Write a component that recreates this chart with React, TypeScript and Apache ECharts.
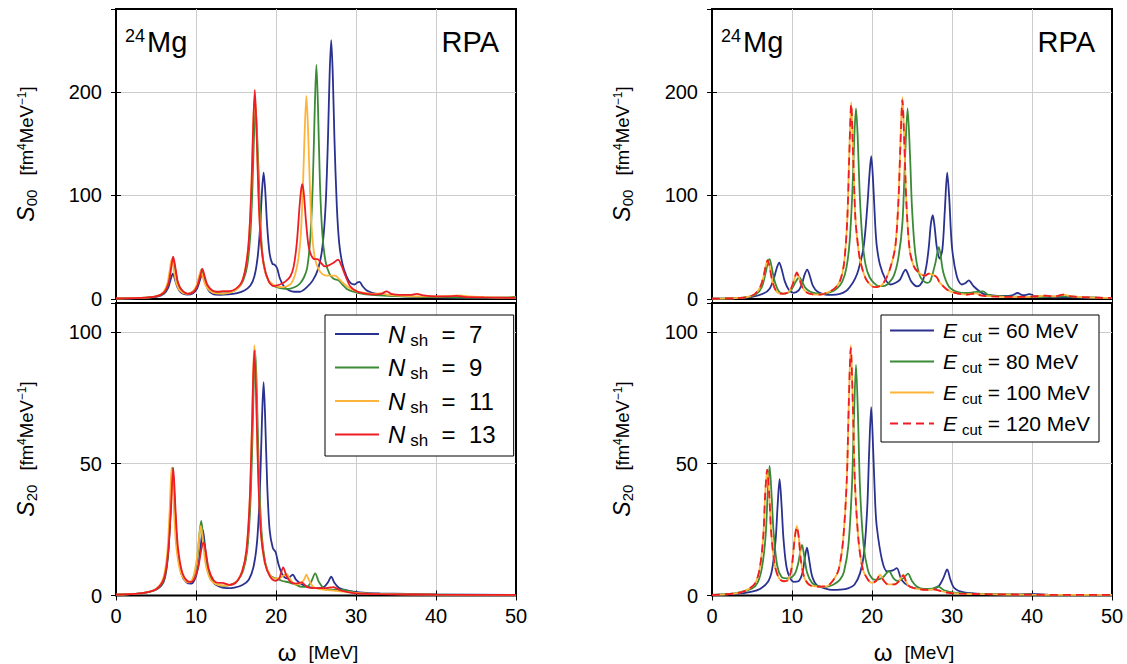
import React, { useEffect, useRef } from "react";
import * as echarts from "echarts";

// ---------- colours ----------
const BLUE = "#2a318f";
const GREEN = "#3b8a35";
const ORANGE = "#fdb43a";
const RED = "#ee1c24";

// ---------- tick labels ----------
const xTicks = [0, 10, 20, 30, 40, 50];
const yTicksS00 = [0, 100, 200];
const yTicksS20 = [0, 50, 100];

// ---------- legend labels ----------
const nshNames = ["N7", "N9", "N11", "N13"];
const nshValues = ["7", "9", "11", "13"];
const ecutNames = ["E60", "E80", "E100", "E120"];
const ecutValues = ["60", "80", "100", "120"];

// ---------- Panel A: S00, varying N_sh ----------
const s00_N7 = [[0,0.4],[3,0.8],[5,2],[6,5],[6.5,10.4],[6.8,18],[7.1,24.5],[7.4,18],[7.7,11],[8.2,5.7],[8.9,4.2],[9.6,5.4],[10.1,9.5],[10.5,18.5],[10.8,24.5],[11.1,18.5],[11.5,9.2],[12.1,4.8],[13,4],[14,4.4],[15,5.4],[16,8],[16.8,13],[17.3,22],[17.7,40],[18,68],[18.25,104],[18.45,122],[18.65,105],[18.9,70],[19.2,44],[19.55,34],[19.85,33],[20.15,29.5],[20.5,19.5],[21,12],[21.6,8.4],[22.3,7],[23,7],[23.8,11],[24.6,18],[25.3,30],[25.8,50],[26.2,90],[26.5,156],[26.7,216],[26.9,250],[27.1,216],[27.3,156],[27.6,90],[27.9,54],[28.3,34],[28.8,22],[29.3,15.5],[29.8,14],[30.2,16],[30.45,16.5],[30.8,12.5],[31.3,8.5],[32,6],[33,4.5],[34,4],[35,3],[37,2.2],[40,1.7],[45,1.2],[50,0.8]];
const s00_N9 = [[0,0.5],[3,1],[5,2.5],[6,6],[6.5,14],[6.8,27],[7.1,40],[7.4,29],[7.7,16],[8.2,8],[8.9,5],[9.6,7],[10.1,12],[10.45,22],[10.7,28.5],[10.95,23],[11.3,14],[11.9,8],[12.6,5.8],[13.5,5.3],[14.5,7],[15.3,11],[15.9,18],[16.4,32],[16.8,63],[17.05,106],[17.25,157],[17.45,186],[17.65,157],[17.9,106],[18.2,53],[18.6,28],[19.1,17],[19.7,12.5],[20.5,10.5],[21.3,9.8],[21.8,10],[22.5,12],[23,15],[23.5,21],[23.9,30],[24.3,60],[24.6,112],[24.85,185],[25.05,226],[25.25,185],[25.5,110],[25.8,62],[26.2,36],[26.7,24],[27.2,19.5],[27.8,18],[28.3,14],[28.9,9.5],[29.7,7],[30.5,5.5],[32,4],[34,3],[36,2.5],[40,1.8],[45,1.3],[49,1.5],[50,2.2]];
const s00_N11 = [[0,0.5],[3,1],[5,2.6],[5.9,6.5],[6.4,14.5],[6.7,27],[6.95,38],[7.25,27],[7.55,15],[8.05,7.5],[8.8,5],[9.5,6.5],[10,12],[10.35,21],[10.6,27],[10.85,21],[11.2,13],[11.8,7.5],[12.5,5.5],[13.4,5.2],[14.4,6.5],[15.2,10],[15.8,18],[16.3,35],[16.7,68],[16.95,115],[17.15,168],[17.35,196],[17.55,168],[17.8,108],[18.1,58],[18.5,31],[19,19],[19.6,14],[20.2,12],[20.8,11.5],[21.4,12.5],[21.9,15],[22.4,24],[22.8,39],[23.1,62],[23.35,105],[23.6,165],[23.8,196],[24,165],[24.25,105],[24.5,64],[24.85,40],[25.3,29],[25.8,24],[26.4,22.5],[26.9,22.5],[27.4,22.5],[27.8,20],[28.3,16],[28.9,12],[29.6,9],[30.2,7.2],[31,5.8],[32,5],[33,5.5],[34,4],[36,3],[38,2.5],[40,2.5],[42,3],[43,3.5],[44,2.5],[47,1.5],[50,1.2]];
const s00_N13 = [[0,0.5],[3,1],[5,2.5],[6,6.5],[6.55,15],[6.85,28],[7.15,41],[7.45,29],[7.75,16],[8.3,8],[9,5],[9.7,7],[10.2,13.5],[10.55,23],[10.8,29],[11.05,23],[11.4,14],[12,8.5],[12.7,7],[13.4,7.5],[14.2,7.5],[15,10],[15.7,16],[16.2,30],[16.6,56],[16.95,112],[17.15,167],[17.35,202],[17.55,167],[17.8,102],[18.05,62],[18.45,34],[19.1,17],[19.7,12.5],[20.5,14],[21.2,17],[21.8,22],[22.2,31],[22.6,54],[22.95,90],[23.15,106],[23.3,111],[23.5,100],[23.75,75],[24.05,52],[24.35,43],[24.8,38.5],[25.2,38.5],[25.6,35],[26.1,31.5],[26.6,32.5],[27.2,35],[27.75,38],[28.2,32],[28.7,22],[29.3,12],[30.1,7.4],[31.4,5],[32.6,4.5],[33.3,5.5],[33.8,7.4],[34.4,5],[35.5,4],[36.8,4],[37.6,5],[38.4,3.5],[40,2.5],[41.5,2.5],[42.6,3],[43.5,2],[46,1.5],[50,1]];

// ---------- Panel B: S20, varying N_sh ----------
const s20_N7 = [[0,0.3],[3,0.8],[5,2.2],[6,5.5],[6.5,15],[6.8,30],[7.1,48],[7.4,31],[7.7,17],[8.2,8],[8.8,5],[9.4,4.5],[9.9,6.5],[10.3,11.5],[10.6,19],[10.85,25],[11.1,19.5],[11.5,10],[12.1,5.2],[12.8,3.5],[13.8,2.8],[14.8,3],[15.8,4],[16.6,6],[17.2,11],[17.65,21],[18,41],[18.25,67],[18.45,81],[18.65,67],[18.9,42],[19.2,25],[19.6,18],[19.95,16.5],[20.3,12],[20.8,8],[21.4,6.5],[21.8,7.2],[22.1,7.9],[22.5,6],[23.1,4.5],[23.8,3.5],[24.5,3],[25.3,2.8],[26,3.2],[26.5,5],[26.9,7.2],[27.3,4.8],[27.9,2.8],[29,1.8],[30.5,1.2],[33,0.8],[40,0.4],[50,0.2]];
const s20_N9 = [[0,0.3],[3,0.8],[5,2.3],[6,6],[6.5,16],[6.8,32],[7.05,48.5],[7.35,32],[7.65,18],[8.2,8],[8.8,5.5],[9.3,5.2],[9.8,8],[10.2,15],[10.45,24],[10.65,28.3],[10.9,22],[11.3,11.5],[11.9,6],[12.6,4.2],[13.4,3.7],[14.3,4],[15.2,5.7],[15.9,9.5],[16.4,17],[16.8,35],[17.1,65],[17.25,84],[17.4,93],[17.6,78],[17.85,48],[18.2,24],[18.7,12],[19.3,7.5],[20,6.5],[20.8,5.5],[21.6,5],[22.4,4.2],[23.2,3.3],[23.9,3.4],[24.4,5.2],[24.9,8.4],[25.35,5.2],[25.9,3],[26.6,2.3],[27.5,2.2],[28.4,2.1],[29,1.8],[30,1],[32,0.6],[40,0.3],[50,0.2]];
const s20_N11 = [[0,0.3],[3,0.8],[5,2.5],[5.9,6.5],[6.4,16],[6.7,32],[6.95,48.5],[7.25,32],[7.55,18],[8.1,8.5],[8.7,5.5],[9.2,5],[9.7,7.5],[10.1,14],[10.4,22.5],[10.6,26.4],[10.85,21],[11.2,12],[11.8,6],[12.5,4.3],[13.3,3.8],[14.2,4],[15.1,5.5],[15.8,9.5],[16.3,17],[16.7,35],[17,65],[17.15,85],[17.3,95],[17.5,80],[17.75,49],[18.1,24.5],[18.6,12.5],[19.2,8],[19.8,6.5],[20.4,6.5],[20.9,7.5],[21.3,8.2],[21.8,6],[22.4,4.2],[23,4.5],[23.5,6],[23.8,7.9],[24.1,6],[24.6,3.5],[25.3,2.5],[26.5,2],[28,1.6],[30,1],[33,0.6],[40,0.3],[50,0.2]];
const s20_N13 = [[0,0.3],[3,0.8],[5,2.4],[6,6.5],[6.5,16],[6.85,32],[7.15,48.5],[7.45,32],[7.75,18],[8.3,8.5],[8.9,5.5],[9.4,5.2],[9.9,7],[10.3,11],[10.7,18],[10.95,20.1],[11.2,17],[11.6,10],[12.2,5.8],[12.8,4.8],[13.3,4.8],[14.2,4],[15.1,5.3],[15.8,9.5],[16.3,17],[16.7,35],[17,64],[17.15,83],[17.3,93],[17.5,78],[17.75,48],[18.1,24],[18.6,12.5],[19.2,7.5],[19.9,5.6],[20.4,6.5],[20.9,10.7],[21.3,7.5],[21.8,5.2],[22.5,4.5],[23.2,5],[23.9,3.2],[24.8,2.8],[26,2.8],[27.2,3.2],[28,2],[29,1.3],[30,0.8],[33,0.5],[40,0.3],[50,0.2]];

// ---------- Panel C: S00, varying E_cut ----------
const s00_E60 = [[0,0.3],[3,0.8],[5,2],[6.5,5.5],[7.2,10],[7.7,19],[8.1,30],[8.4,35],[8.7,29],[9.1,17],[9.6,9],[10.2,6],[10.8,8],[11.25,15],[11.6,24],[11.9,28.4],[12.2,23],[12.6,13],[13.2,7],[14,4.5],[15,4],[16,5],[16.8,8],[17.3,12.3],[17.9,20],[18.3,28],[18.95,50],[19.4,88],[19.7,122],[19.9,138],[20.15,112],[20.4,72],[20.6,51],[21,33],[21.7,18.7],[22.3,14],[22.9,15.5],[23.5,18.7],[23.95,26],[24.2,28.4],[24.5,24],[24.9,17],[25.6,12.3],[26,13.5],[26.4,18.7],[26.8,32],[27.1,50],[27.35,72],[27.6,81],[27.85,68],[28.1,50],[28.45,39],[28.8,48],[29.1,85],[29.4,122],[29.65,98],[30,50],[30.6,22],[31.2,14],[31.7,15.5],[32.1,18],[32.7,12.3],[33.9,5],[35,3.5],[36.5,3],[37.5,3.5],[38.2,5.8],[38.8,3.8],[39.3,4],[39.7,4.8],[40.3,2.8],[42,1.8],[45,1.5],[50,0.8]];
const s00_E80 = [[0,0.3],[3,0.8],[4.5,2],[5.5,4.5],[6.2,11],[6.7,25],[7,36],[7.2,38.5],[7.45,31],[7.8,18],[8.3,8],[8.9,5],[9.5,6],[10,10],[10.5,17],[10.9,21],[11.25,17],[11.7,10.5],[12.3,7],[13,5.5],[14,5],[14.8,6.5],[15.6,10],[16.3,17],[16.8,30],[17.2,55],[17.55,104],[17.8,159],[18,184],[18.2,159],[18.45,104],[18.8,57],[19.2,33],[19.7,21],[20.3,15],[20.8,12.5],[21.4,12.5],[21.9,14],[22.7,22],[23.3,40],[23.8,73],[24.15,139],[24.45,184],[24.75,139],[25,88],[25.4,45],[26,22],[26.9,15.5],[27.3,17.5],[27.9,34],[28.35,50],[28.9,26],[29.6,12],[30.4,7.5],[31.2,6],[31.9,5.8],[32.7,6.5],[33.4,7],[33.9,7.4],[34.5,4],[36,2.8],[38,2.2],[40,2],[42,2.2],[44,2.5],[47,1.5],[50,1]];
const s00_E100 = [[0,0.3],[3,0.8],[4.5,2],[5.3,4.5],[6,11],[6.45,22],[6.75,33],[6.95,37.5],[7.2,31],[7.55,17],[8,8],[8.6,5.2],[9.2,5.4],[9.8,8.8],[10.25,18],[10.6,26],[10.9,20],[11.3,11],[11.9,6],[12.6,4.5],[13.5,4.2],[14.5,6.5],[15.3,10],[16,17.5],[16.5,34],[16.9,76],[17.15,138],[17.4,190],[17.65,138],[17.9,82],[18.1,62],[18.5,38],[19.2,20],[20,12.3],[20.6,11.5],[21.4,15],[22.2,28],[22.9,50],[23.3,95],[23.55,150],[23.8,195],[24.05,150],[24.3,93],[24.7,48],[25.2,32],[25.8,25.8],[26.6,22.5],[27.1,24.5],[27.7,23],[28.1,21],[28.5,15.5],[29.4,9],[30.4,5.8],[31.9,4.2],[33,5.5],[33.6,3.5],[35,2.5],[38,2],[40,2.2],[41.7,3.2],[42.8,2.5],[43.9,4.2],[45,2.5],[47,1.5],[50,1]];
const s00_E120 = [[0,0.3],[3,0.8],[4.5,2],[5.3,4.5],[6,11],[6.45,22],[6.75,33],[6.95,37.5],[7.2,31],[7.55,17],[8,8],[8.6,5.2],[9.2,5.4],[9.8,8.8],[10.25,18],[10.6,25.5],[10.9,20],[11.3,11],[11.9,6],[12.6,4.5],[13.5,4.2],[14.5,6.5],[15.3,10],[16,17.5],[16.5,34],[16.9,75],[17.15,136],[17.4,188],[17.65,136],[17.9,81],[18.1,62],[18.5,38],[19.2,20],[20,12.3],[20.6,11.5],[21.4,15],[22.2,28],[22.9,50],[23.3,94],[23.55,148],[23.8,192],[24.05,148],[24.3,92],[24.7,48],[25.2,32],[25.8,25.8],[26.6,22.5],[27.1,24.5],[27.7,23],[28.1,21],[28.5,15.5],[29.4,9],[30.4,5.8],[31.9,4.2],[33,5.5],[33.6,3.5],[35,2.5],[38,2],[40,2.2],[41.7,3.2],[42.8,2.5],[43.9,4.2],[45,2.5],[47,1.5],[50,1]];

// ---------- Panel D: S20, varying E_cut ----------
const s20_E60 = [[0,0.2],[3,0.6],[5,1.5],[6,2.5],[7,5.2],[7.5,9.6],[7.95,21],[8.2,34],[8.45,44.2],[8.7,34],[8.95,21],[9.4,9.6],[10.2,5.2],[10.8,5.4],[11.3,8.5],[11.6,14.3],[11.87,18.2],[12.1,14.5],[12.5,7.5],[13.1,3.9],[14,2.8],[15,2.1],[16,2.2],[17,2.7],[17.8,4.1],[18.5,8.4],[19,16],[19.4,33],[19.65,55],[19.9,71.5],[20.15,55],[20.4,35],[20.6,26],[21.25,13.5],[21.9,9.1],[22.6,9.5],[23.1,10.4],[23.7,5.9],[24.7,3.4],[26,2.5],[27.3,2.3],[28.3,3.5],[28.9,6.5],[29.4,9.9],[29.8,6],[30.3,2.8],[31.5,1.2],[34,0.6],[38,0.4],[40,0.6],[42,0.3],[50,0.2]];
const s20_E80 = [[0,0.2],[3,0.9],[5,2.7],[5.7,4.9],[6.25,10.7],[6.7,22.5],[6.95,38],[7.2,49.2],[7.45,38],[7.7,24],[8.15,11.3],[8.7,7],[9.3,6.5],[9.9,6.8],[10.4,8.5],[10.8,12.5],[11.05,17],[11.25,19.2],[11.5,15.5],[11.9,8.5],[12.5,4.8],[13.3,3.5],[14.3,3.3],[15.2,4.2],[16,6],[16.5,9],[17.05,19],[17.5,42],[17.75,68],[18,87.5],[18.25,68],[18.5,41],[18.95,19],[19.5,9.5],[20,6.5],[20.6,5.9],[21.4,7],[22.1,9.3],[22.7,6.5],[23.2,5.5],[23.9,6.5],[24.5,8.3],[25,5.5],[25.6,3.4],[26.5,2.5],[27.5,2.6],[28.3,3.4],[29,2],[30.5,1],[33,0.6],[40,0.3],[50,0.2]];
const s20_E100 = [[0,0.2],[3,0.8],[4.5,2.3],[5.4,4.7],[5.95,10],[6.4,22],[6.65,38.5],[6.9,47.6],[7.15,38.5],[7.4,24],[7.85,11.5],[8.4,6.4],[9,5.4],[9.4,5.6],[9.9,9.5],[10.35,22],[10.6,26.4],[10.85,22],[11.1,13.6],[11.55,6.7],[12.2,4],[13.3,3.4],[14.3,3.5],[15.2,6],[15.85,10],[16.4,21.4],[16.85,44],[17.1,73],[17.35,95],[17.6,73],[17.85,44],[18.3,21.4],[18.85,10],[19.5,6],[20,4.8],[20.5,5.5],[21,7.9],[21.5,5.5],[22,4.2],[22.8,4.2],[23.4,5.5],[23.9,7.9],[24.3,5],[24.7,3.4],[25.8,2.4],[26.9,2.1],[27.7,2.3],[28.5,1.8],[29.4,1.1],[31,0.7],[34,0.5],[40,0.3],[50,0.2]];
const s20_E120 = [[0,0.2],[3,0.8],[4.5,2.3],[5.4,4.7],[5.95,10],[6.4,22],[6.65,38.5],[6.9,47.8],[7.15,38.5],[7.4,24],[7.85,11.5],[8.4,6.4],[9,5.4],[9.4,5.6],[9.9,9.5],[10.35,22],[10.6,26],[10.85,22],[11.1,13.6],[11.55,6.7],[12.2,4],[13.3,3.4],[14.3,3.5],[15.2,6],[15.85,10],[16.4,21.4],[16.85,44],[17.1,73],[17.35,94],[17.6,73],[17.85,44],[18.3,21.4],[18.85,10],[19.5,6],[20,4.8],[20.5,5.5],[21,7.6],[21.5,5.5],[22,4.2],[22.8,4.2],[23.4,5.5],[23.9,7.6],[24.3,5],[24.7,3.4],[25.8,2.4],[26.9,2.1],[27.7,2.3],[28.5,1.8],[29.4,1.1],[31,0.7],[34,0.5],[40,0.3],[50,0.2]];

const FONT = "Liberation Sans, Arial, sans-serif";

const grids = [
  { left: 116, top: 9, width: 400, height: 290 },
  { left: 116, top: 303, width: 400, height: 292.5 },
  { left: 712, top: 9, width: 400, height: 290 },
  { left: 712, top: 303, width: 400, height: 292.5 },
];
const isTop = [true, false, true, false];

function buildOption() {
  const grid = grids.map((g) => ({ ...g, show: true, borderColor: "#000", borderWidth: 2, backgroundColor: "transparent" }));

  const xAxis: any[] = [];
  const yAxis: any[] = [];
  grids.forEach((_, i) => {
    xAxis.push({
      type: "value", gridIndex: i, min: xTicks[0], max: xTicks[xTicks.length - 1], interval: xTicks[1] - xTicks[0],
      position: "bottom",
      axisLine: { show: false },
      axisTick: { show: true, inside: true, length: 5, lineStyle: { color: "#000", width: 1 } },
      axisLabel: { show: !isTop[i], fontSize: 20, color: "#000", margin: 10, fontFamily: FONT },
      splitLine: { show: true, showMinLine: false, showMaxLine: false, lineStyle: { color: "#cdcdcd", width: 1 } },
    });
  });
  grids.forEach((_, i) => {
    xAxis.push({
      type: "value", gridIndex: i, min: 0, max: 50, interval: 10, position: "top",
      axisLine: { show: false }, axisLabel: { show: false }, splitLine: { show: false },
      axisTick: { show: true, inside: true, length: 5, lineStyle: { color: "#000", width: 1 } },
    });
  });
  grids.forEach((_, i) => {
    const t = isTop[i] ? yTicksS00 : yTicksS20;
    yAxis.push({
      type: "value", gridIndex: i, min: 0, max: isTop[i] ? 280 : 111, interval: t[1] - t[0],
      position: "left",
      axisLine: { show: false },
      axisTick: { show: true, inside: true, length: 5, lineStyle: { color: "#000", width: 1 } },
      axisLabel: { fontSize: 20, color: "#000", margin: 14, showMaxLabel: false, fontFamily: FONT },
      splitLine: { show: true, showMinLine: false, showMaxLine: false, lineStyle: { color: "#cdcdcd", width: 1 } },
    });
  });
  grids.forEach((_, i) => {
    yAxis.push({
      type: "value", gridIndex: i, min: 0, max: isTop[i] ? 280 : 111, interval: isTop[i] ? 100 : 50,
      position: "right",
      axisLine: { show: false }, axisLabel: { show: false }, splitLine: { show: false },
      axisTick: { show: true, inside: true, length: 5, lineStyle: { color: "#000", width: 1 } },
    });
  });

  const mk = (name: string, data: number[][], idx: number, color: string, dashed = false) => ({
    type: "line", name, data, xAxisIndex: idx, yAxisIndex: idx,
    showSymbol: false, symbol: "none", smooth: 0.3, clip: true,
    lineStyle: { color, width: 1.8, type: dashed ? [8, 5] : "solid" },
    itemStyle: { color },
    emphasis: { disabled: true },
  });

  const series = [
    mk("N7", s00_N7, 0, BLUE), mk("N9", s00_N9, 0, GREEN), mk("N11", s00_N11, 0, ORANGE), mk("N13", s00_N13, 0, RED),
    mk("N7", s20_N7, 1, BLUE), mk("N9", s20_N9, 1, GREEN), mk("N11", s20_N11, 1, ORANGE), mk("N13", s20_N13, 1, RED),
    mk("E60", s00_E60, 2, BLUE), mk("E80", s00_E80, 2, GREEN), mk("E100", s00_E100, 2, ORANGE), mk("E120", s00_E120, 2, RED, true),
    mk("E60", s20_E60, 3, BLUE), mk("E80", s20_E80, 3, GREEN), mk("E100", s20_E100, 3, ORANGE), mk("E120", s20_E120, 3, RED, true),
  ];

  const legRich = (big: number, sub: number) => ({
    t: { fontSize: big, fontFamily: FONT, color: "#000" },
    i: { fontSize: big, fontFamily: FONT, fontStyle: "italic", color: "#000", padding: [0, 0, 0, 4] },
    sub: { fontSize: sub, fontFamily: FONT, color: "#000", padding: [12, 0, 0, 5] },
  });
  const legCommon = {
    orient: "vertical", itemWidth: 44, itemHeight: 14,
    borderColor: "#000", borderWidth: 1, backgroundColor: "#fff",
    selectedMode: false, itemStyle: { opacity: 0 },
  };
  const nshLabel: Record<string, string> = {};
  nshNames.forEach((n, k) => (nshLabel[n] = `{i|N}{sub|sh}{t|  =  ${nshValues[k]}}`));
  const ecutLabel: Record<string, string> = {};
  ecutNames.forEach((n, k) => (ecutLabel[n] = `{i|E}{sub|cut}{t| = ${ecutValues[k]} MeV}`));

  const legend = [
    { ...legCommon, data: nshNames, left: 325, top: 315, itemGap: 7, padding: [7, 18, 7, 9], textStyle: { rich: legRich(24, 17) }, formatter: (n: string) => nshLabel[n] },
    { ...legCommon, data: ecutNames, left: 881, top: 315, itemGap: 7, padding: [5, 9, 5, 8], textStyle: { rich: legRich(21, 15) }, formatter: (n: string) => ecutLabel[n] },
  ];

  const yNameRich = {
    s: { fontSize: 23, fontFamily: FONT, fontStyle: "italic", color: "#000" },
    sub: { fontSize: 15, fontFamily: FONT, color: "#000", padding: [10, 0, 0, 0] },
    u: { fontSize: 18.5, fontFamily: FONT, color: "#000" },
    g: { fontSize: 18.5, fontFamily: FONT, color: "#000", padding: [0, 0, 0, 14] },
    sup: { fontSize: 12, fontFamily: FONT, color: "#000", padding: [0, 0, 9, 0] },
  };
  const yName = (x: number, y: number, idx: string) => ({
    type: "text", x, y, rotation: Math.PI / 2,
    style: { text: `{s|S}{sub|${idx}}{g|[fm}{sup|4}{u|MeV}{sup|−1}{u|]}`, rich: yNameRich, align: "center", verticalAlign: "middle" },
  });
  const xNameRich = {
    w: { fontSize: 24, fontFamily: FONT, color: "#000" },
    u: { fontSize: 19, fontFamily: FONT, color: "#000", padding: [0, 0, 0, 12] },
  };
  const xName = (x: number) => ({
    type: "text", x, y: 652,
    style: { text: `{w|ω}{u|[MeV]}`, rich: xNameRich, align: "center", verticalAlign: "middle" },
  });
  const mgRich = {
    sup: { fontSize: 18, fontFamily: FONT, color: "#000", padding: [0, 2, 12, 0] },
    m: { fontSize: 29, fontFamily: FONT, color: "#000" },
  };
  const mg = (x: number) => ({
    type: "text", x, y: 42, style: { text: "{sup|24}{m|Mg}", rich: mgRich, align: "left", verticalAlign: "middle" },
  });
  const rpa = (x: number) => ({
    type: "text", x, y: 42, style: { text: "RPA", fontSize: 29, fontFamily: FONT, fill: "#000", align: "right", verticalAlign: "middle" },
  });

  const graphic = [
    yName(26, 154, "00"), yName(26, 449, "20"), yName(622, 154, "00"), yName(622, 449, "20"),
    xName(318), xName(914),
    mg(125), mg(721), rpa(499), rpa(1095),
  ];

  return { animation: false, backgroundColor: "#fff", grid, xAxis, yAxis, series, legend, graphic };
}

export default function App() {
  const ref = useRef<HTMLDivElement>(null);
  useEffect(() => {
    const chart = echarts.init(ref.current!, undefined, { renderer: "svg" });
    chart.setOption(buildOption() as any);
    return () => chart.dispose();
  }, []);
  return <div ref={ref} style={{ position: "fixed", left: 0, top: 0, width: 1127, height: 664, background: "#fff" }} />;
}
